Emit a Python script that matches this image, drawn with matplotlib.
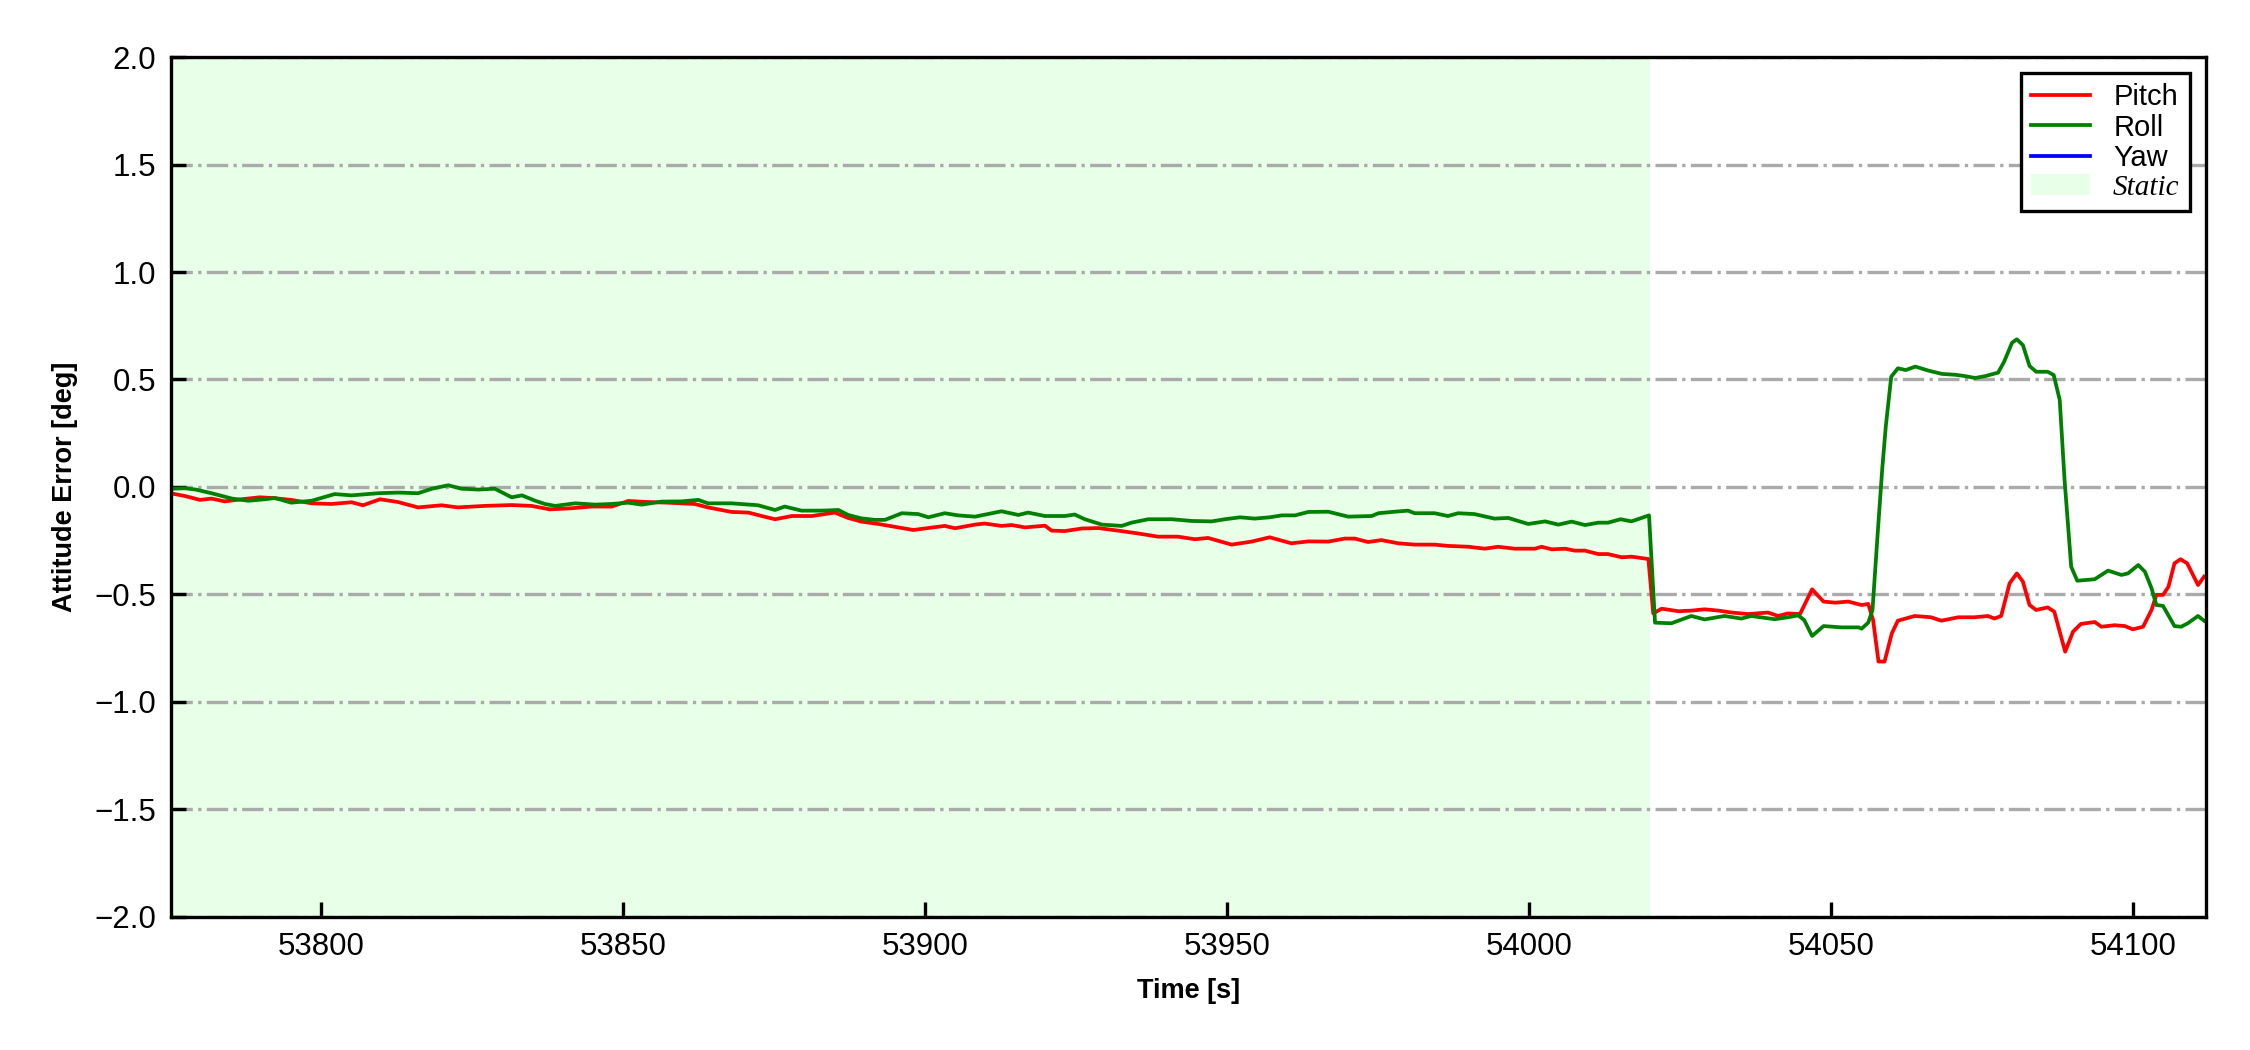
import matplotlib
matplotlib.use('Agg')
import matplotlib.pyplot as plt

plt.rcParams['font.family'] = ['Liberation Sans', 'DejaVu Sans']

# 姿态误差数据
t_pitch = [53775.2, 53777.4, 53779.9, 53781.8, 53784.0, 53786.8, 53789.8, 53791.8, 53795.0, 53798.4,
           53801.7, 53805.0, 53806.9, 53809.7, 53812.7, 53816.0, 53819.9, 53822.6, 53827.0, 53831.5,
           53834.8, 53837.8, 53841.4, 53844.7, 53848.1, 53850.8, 53854.1, 53857.4, 53861.8, 53864.0,
           53867.9, 53870.7, 53872.9, 53875.1, 53877.9, 53881.2, 53885.0, 53887.2, 53889.4,
           53892.2, 53895.5, 53898.0, 53901.0, 53903.2, 53904.9, 53908.2, 53909.8, 53912.6, 53914.3,
           53916.5, 53919.8, 53920.9, 53923.1, 53925.9, 53928.6, 53931.9, 53935.2, 53938.5, 53941.8,
           53944.6, 53946.8,
           53950.7, 53954.0, 53957.0, 53960.6, 53963.4, 53966.7, 53969.4, 53971.1, 53973.3, 53975.5,
           53978.3, 53981.0, 53984.3, 53986.5, 53989.9, 53992.6, 53994.8, 53997.6, 54000.9, 54002.0,
           54003.7, 54005.9,
           54007.5, 54009.2, 54011.4, 54013.0, 54015.3, 54016.9, 54019.7, 54020.5, 54021.9, 54024.7,
           54026.8, 54029.0, 54031.3, 54033.5, 54036.2,
           54039.5, 54041.2, 54042.8, 54044.8, 54046.8, 54048.7, 54050.6, 54052.8, 54055.0, 54056.1,
           54056.9, 54057.8, 54058.8, 54060.0, 54061.0, 54063.8, 54066.5, 54068.2, 54071.0, 54073.7,
           54075.9, 54077.0, 54078.1, 54079.5, 54080.7, 54081.7, 54082.8, 54083.9, 54085.8, 54086.9,
           54088.7, 54090.0, 54091.3, 54093.6, 54094.7, 54096.9, 54098.6, 54099.9, 54101.6, 54103.0,
           54103.8, 54104.9, 54105.8, 54106.8, 54107.8, 54108.9, 54110.7, 54111.7]
pitch = [-0.030, -0.042, -0.060, -0.054, -0.067, -0.057, -0.048, -0.051, -0.060, -0.076,
         -0.079, -0.071, -0.085, -0.057, -0.070, -0.095, -0.085, -0.095, -0.088, -0.084,
         -0.088, -0.104, -0.099, -0.091, -0.091, -0.065, -0.070, -0.073, -0.079, -0.095,
         -0.116, -0.119, -0.135, -0.150, -0.135, -0.135, -0.119, -0.144, -0.161,
         -0.172, -0.188, -0.200, -0.189, -0.181, -0.192, -0.175, -0.170, -0.181, -0.177,
         -0.188, -0.180, -0.203, -0.205, -0.193, -0.191, -0.203, -0.216, -0.231, -0.231,
         -0.243, -0.237,
         -0.268, -0.254, -0.234, -0.262, -0.253, -0.254, -0.240, -0.240, -0.256, -0.247,
         -0.262, -0.268, -0.268, -0.274, -0.278, -0.287, -0.278, -0.287, -0.287, -0.278,
         -0.290, -0.287,
         -0.296, -0.296, -0.312, -0.312, -0.327, -0.324, -0.335, -0.588, -0.566, -0.578,
         -0.575, -0.569, -0.575, -0.584, -0.591,
         -0.584, -0.600, -0.588, -0.591, -0.476, -0.533, -0.538, -0.533, -0.549, -0.544,
         -0.619, -0.812, -0.812, -0.681, -0.622, -0.600, -0.606, -0.622, -0.606, -0.606,
         -0.600, -0.612, -0.600, -0.448, -0.402, -0.440, -0.549, -0.572, -0.560, -0.580,
         -0.766, -0.673, -0.637, -0.628, -0.650, -0.643, -0.647, -0.662, -0.650, -0.572,
         -0.502, -0.502, -0.464, -0.355, -0.336, -0.355, -0.456, -0.417]

t_roll = [53775.2, 53777.4, 53779.2, 53781.8, 53785.2, 53787.9, 53790.7, 53792.3, 53795.0, 53798.4,
          53802.2, 53805.0, 53809.4, 53812.7, 53816.0, 53818.3, 53821.0, 53823.2, 53826.0, 53828.7,
          53831.5,
          53833.2, 53835.4, 53837.0, 53838.7, 53842.0, 53845.3, 53848.0, 53850.8, 53853.0, 53856.3,
          53859.6, 53862.4, 53864.0, 53867.9, 53872.3, 53875.1, 53876.7, 53879.5, 53882.8, 53885.6,
          53887.2, 53889.4, 53891.6,
          53893.3, 53896.1, 53898.8, 53900.5, 53903.2, 53905.4, 53908.2, 53912.6, 53915.4, 53917.0,
          53919.8, 53923.1, 53924.7, 53926.4, 53929.2, 53932.5, 53934.1, 53936.9, 53940.8, 53944.1,
          53947.4, 53949.6,
          53952.1, 53954.5, 53957.0, 53959.0, 53961.2, 53963.4, 53966.7, 53970.0, 53973.9, 53975.0,
          53977.7, 53979.9, 53981.0, 53984.3, 53986.5, 53988.2, 53990.9, 53994.2, 53996.5, 53999.8,
          54002.6, 54004.8, 54007.0,
          54009.2, 54011.4, 54013.0, 54015.1, 54016.9, 54019.8, 54020.8, 54023.5, 54026.8, 54029.0,
          54032.3, 54035.1, 54036.7,
          54040.6, 54042.8, 54044.5, 54045.5, 54046.8, 54048.7, 54051.7, 54054.5, 54055.0, 54056.1,
          54056.8, 54057.7, 54058.4, 54059.0, 54059.9, 54061.0, 54062.3, 54063.9, 54066.1, 54068.3,
          54070.5, 54072.1, 54073.8, 54075.5, 54077.6, 54078.6, 54079.9, 54080.7, 54081.7, 54082.8,
          54083.9, 54085.8, 54086.8, 54087.8, 54088.6, 54089.7, 54090.7, 54093.6, 54095.8, 54098.0,
          54099.1, 54100.8, 54101.9, 54103.0, 54103.8, 54104.9, 54106.8, 54107.9, 54109.0, 54110.7,
          54111.7]
roll = [-0.008, -0.006, -0.012, -0.029, -0.054, -0.064, -0.057, -0.051, -0.073, -0.064,
        -0.033, -0.039, -0.029, -0.026, -0.029, -0.008, 0.008, -0.008, -0.012, -0.008,
        -0.048,
        -0.039, -0.064, -0.079, -0.088, -0.076, -0.082, -0.079, -0.073, -0.082, -0.068,
        -0.067, -0.060, -0.076, -0.076, -0.085, -0.107, -0.091, -0.110, -0.110, -0.107,
        -0.130, -0.146, -0.153,
        -0.153, -0.122, -0.126, -0.141, -0.122, -0.132, -0.138, -0.113, -0.130, -0.119,
        -0.135, -0.135, -0.128, -0.150, -0.175, -0.181, -0.166, -0.150, -0.150, -0.158,
        -0.160, -0.150,
        -0.141, -0.147, -0.141, -0.132, -0.132, -0.116, -0.115, -0.138, -0.135, -0.122,
        -0.115, -0.110, -0.122, -0.122, -0.135, -0.122, -0.126, -0.147, -0.144, -0.172,
        -0.160, -0.175, -0.161,
        -0.177, -0.166, -0.166, -0.150, -0.160, -0.132, -0.631, -0.634, -0.600, -0.616,
        -0.600, -0.612, -0.600,
        -0.615, -0.606, -0.597, -0.619, -0.693, -0.647, -0.653, -0.653, -0.659, -0.631,
        -0.572, -0.200, 0.079, 0.281, 0.513, 0.552, 0.544, 0.560, 0.541, 0.526,
        0.522, 0.516, 0.507, 0.516, 0.532, 0.583, 0.671, 0.687, 0.660, 0.563,
        0.536, 0.536, 0.521, 0.405, 0.033, -0.371, -0.436, -0.429, -0.389, -0.409,
        -0.402, -0.363, -0.394, -0.471, -0.549, -0.553, -0.647, -0.650, -0.634, -0.600,
        -0.622]

# 偏航误差超出显示范围, 只保留图例
t_yaw = []
yaw = []

static_start = 53775.1
static_end = 54020.0
x_range = (53775.1, 54112.0)

fig = plt.figure(figsize=(7.5, 3.5), dpi=300)
ax = fig.add_axes([0.076, 0.1267, 0.9044, 0.819])

ax.axvspan(static_start, static_end, color='#00ff00', alpha=0.09, lw=0, label='Static', zorder=0.1)
ax.plot(t_pitch, pitch, color='red', lw=0.9, label='Pitch')
ax.plot(t_roll, roll, color='green', lw=0.9, label='Roll')
ax.plot(t_yaw, yaw, color='blue', lw=0.9, label='Yaw')

ax.set_xlim(*x_range)
ax.set_ylim(-2.0, 2.0)
ax.set_yticks([-2.0, -1.5, -1.0, -0.5, 0.0, 0.5, 1.0, 1.5, 2.0])
ax.set_axisbelow(True)
ax.grid(axis='y', linestyle='-.', color='#aaaaaa', lw=0.8)
ax.tick_params(direction='in', labelsize=7.5, length=3.5, width=0.8)
for s in ax.spines.values():
    s.set_linewidth(0.8)

ax.set_xlabel('Time [s]', fontsize=6.5, fontweight='bold')
ax.set_ylabel('Attitude Error [deg]', fontsize=6.5, fontweight='bold')

handles, labels = ax.get_legend_handles_labels()
order = [1, 2, 3, 0]
leg = ax.legend([handles[i] for i in order], [labels[i] for i in order],
                loc='upper right', fontsize=7, fancybox=False, framealpha=1,
                edgecolor='black', handlelength=2.0, borderpad=0.35, labelspacing=0.08,
                borderaxespad=0.55)
leg.get_frame().set_linewidth(0.8)
leg.get_texts()[3].set_fontfamily('Liberation Serif')
leg.get_texts()[3].set_fontstyle('italic')

fig.savefig('out.png', dpi=300)
